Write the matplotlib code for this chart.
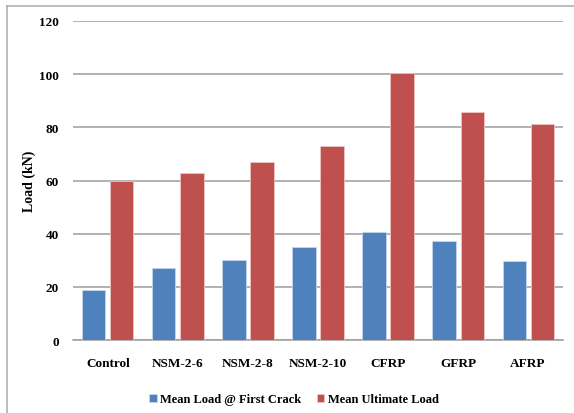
import matplotlib.pyplot as plt
import numpy as np
from matplotlib.lines import Line2D

categories = ["Control", "NSM-2-6", "NSM-2-8", "NSM-2-10", "CFRP", "GFRP", "AFRP"]
first_crack = [19, 27, 30.3, 35.2, 40.6, 37.1, 29.8]
ultimate = [60, 63, 66.8, 72.9, 100.5, 85.6, 81.2]

plt.rcParams["font.family"] = ["Liberation Serif", "DejaVu Serif"]
plt.rcParams["font.weight"] = "bold"

fig = plt.figure(figsize=(5.74, 4.14), dpi=100)
ax = fig.add_axes([0.127, 0.176, 0.854, 0.771])

x = np.arange(len(categories))
w = 0.33
ax.bar(x - 0.2, first_crack, w, color="#4F81BD", edgecolor="#c6d6ea", linewidth=0.6,
       label="Mean Load @ First Crack", zorder=3)
ax.bar(x + 0.2, ultimate, w, color="#C0504D", edgecolor="#ecc6c5", linewidth=0.6,
       label="Mean Ultimate Load", zorder=3)

ax.set_xlim(-0.5, len(categories) - 0.5)
ax.set_ylim(0, 120)
ax.set_yticks(range(0, 121, 20))
ax.set_xticks(x)
ax.set_xticklabels(categories, fontsize=9.5, fontweight="bold")
ax.tick_params(axis="y", labelsize=9.5, length=0, pad=10)
ax.tick_params(axis="x", length=0, pad=12)
ax.grid(axis="y", color="#9c9c9c", linewidth=1.1, zorder=0)
for s in ["top", "right", "left"]:
    ax.spines[s].set_visible(False)
ax.spines["bottom"].set_color("#9c9c9c")
ax.spines["bottom"].set_linewidth(1.1)
ax.set_ylabel("Load (kN)", fontsize=10, fontweight="bold", labelpad=2)

ax.legend(loc="center", bbox_to_anchor=(0.451, -0.185), ncol=2, frameon=False,
          fontsize=9, handlelength=0.6, handleheight=0.6, handletextpad=0.3,
          columnspacing=1.2)

# light frame around the chart
fig.add_artist(Line2D([7 / 574, 7 / 574], [0, 1 - 7 / 414], transform=fig.transFigure,
                      color="#b0b0b0", linewidth=1.2))
fig.add_artist(Line2D([7 / 574, 1], [1 - 7 / 414, 1 - 7 / 414], transform=fig.transFigure,
                      color="#b0b0b0", linewidth=1.2))

fig.savefig("out.png", dpi=100)
